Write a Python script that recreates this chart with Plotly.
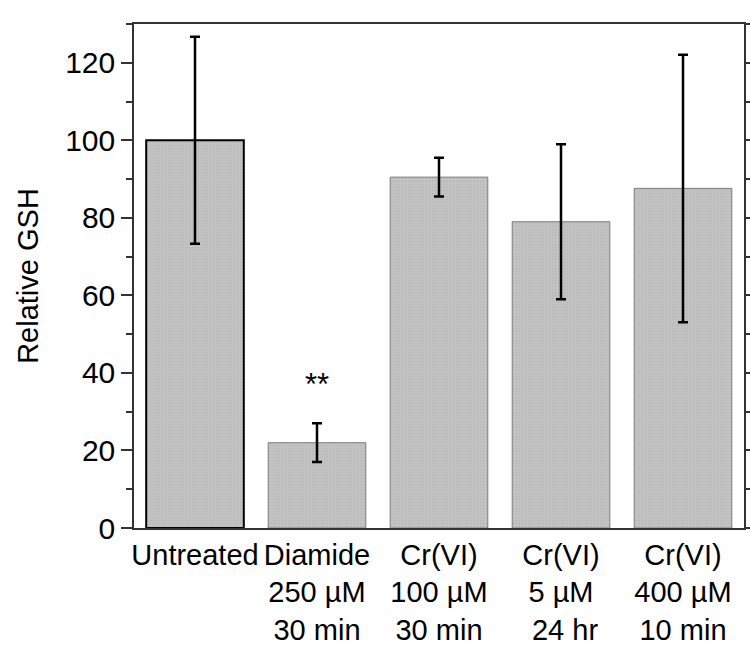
import plotly.graph_objects as go

categories = ["Untreated", "Diamide<br>250 µM<br>30 min", "Cr(VI)<br>100 µM<br>30 min",
              "Cr(VI)<br>5 µM<br> 24 hr", "Cr(VI)<br>400 µM<br>10 min"]
values = [100, 22, 90.5, 79, 87.6]
errors = [26.7, 5, 5, 20, 34.5]
line_colors = ["#000000", "#7a7a7a", "#7a7a7a", "#7a7a7a", "#7a7a7a"]
line_widths = [2, 1, 1, 1, 1]

FONT = "Liberation Sans, Arial"

fig = go.Figure()
fig.add_trace(go.Bar(
    x=categories, y=values, width=0.8,
    marker=dict(color="#bdbdbd", line=dict(color=line_colors, width=line_widths),
                pattern=dict(shape=".", size=3, solidity=0.15, fgcolor="#a8a8a8", bgcolor="#c2c2c2")),
    error_y=dict(type="data", array=errors, visible=True, color="black", thickness=2.5, width=5),
))
fig.add_annotation(x=categories[1], y=37, text="**", showarrow=False,
                   font=dict(size=31, color="black", family=FONT))

fig.update_layout(
    width=750, height=655,
    margin=dict(l=134, r=6, t=24, b=127),
    plot_bgcolor="white", paper_bgcolor="white",
    showlegend=False,
    font=dict(family=FONT, size=30, color="black"),
)
fig.update_xaxes(showline=True, linecolor="#333", linewidth=1.5, mirror=True, tickangle=0,
                 automargin=False,
                 ticks="", tickfont=dict(size=29, family=FONT), range=[-0.5, 4.5])
fig.update_yaxes(range=[0, 130], showline=True, linecolor="#333", linewidth=1.5, mirror="ticks",
                 automargin=False,
                 ticks="outside", ticklen=11, tickwidth=1.5, tickcolor="#333",
                 tickvals=[0, 20, 40, 60, 80, 100, 120],
                 minor=dict(tickvals=[10, 30, 50, 70, 90, 110, 130], ticks="outside", ticklen=6,
                            tickcolor="#333", tickwidth=1.5, showgrid=False),
                 showgrid=False, zeroline=False, tickfont=dict(size=30, family=FONT),
                 title=dict(text="Relative GSH", font=dict(size=29, family=FONT), standoff=18))

fig.write_html("out.html", config={"responsive": False, "displayModeBar": False},
               post_script="document.body.style.margin='0';document.body.style.overflow='hidden';")
